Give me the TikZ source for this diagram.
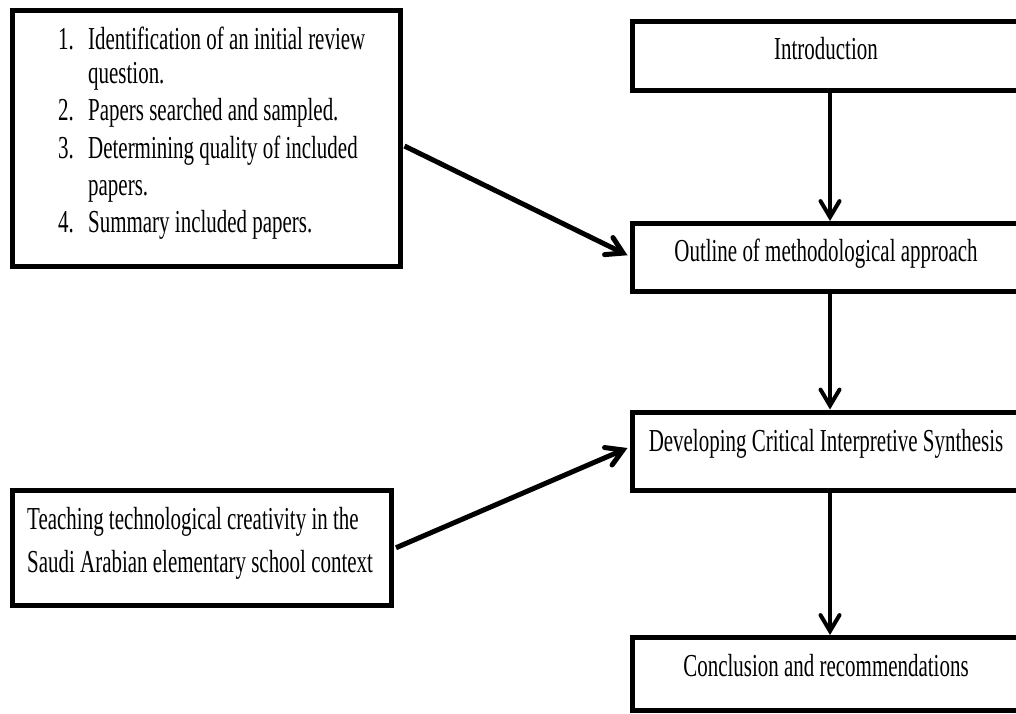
\documentclass[tikz,border=0pt]{standalone}
\usepackage{fontspec}
\setmainfont{Liberation Serif}[FakeStretch=0.655]
\usetikzlibrary{arrows.meta,calc}

\begin{document}
\begin{tikzpicture}[x=1pt,y=-1pt,
  box/.style={draw=black, line width=5pt, fill=white, inner sep=0pt, rectangle},
  lbl/.style={inner sep=0pt, font=\fontsize{32}{38}\selectfont, anchor=base},
  itemtxt/.style={inner sep=0pt, font=\fontsize{32}{38}\selectfont, anchor=base west},
  flow/.style={line width=4pt, -{Straight Barb[length=16pt,width=19pt,line cap=round]}},
  feed/.style={line width=5pt, -{Straight Barb[length=16pt,width=19pt,line cap=round]}}
]
  % page area; boxes on the right run past the edge
  \clip (0,0) rectangle (1016,713);
  \fill[white] (0,0) rectangle (1016,713);

  % main column
  \node[box, minimum width=396pt, minimum height=68.5pt] (intro)   at (830,55.75) {};
  \node[box, minimum width=396pt, minimum height=67.5pt] (outline) at (830,257.25) {};
  \node[box, minimum width=396pt, minimum height=78pt]   (dev)     at (830,451) {};
  \node[box, minimum width=396pt, minimum height=72.5pt] (concl)   at (830,673.75) {};

  \node[lbl] (introtxt)   at (826,59.3)  {Introduction};
  \node[lbl] (outlinetxt) at (826,261)   {Outline of methodological approach};
  \node[lbl] (devtxt)     at (826,451)   {Developing Critical Interpretive Synthesis};
  \node[lbl] (concltxt)   at (826,676.7) {Conclusion and recommendations};

  % review steps
  \node[box, minimum width=388pt, minimum height=256pt] (steps) at (206,138) {};
  \node[itemtxt] (s1)  at (58,49)  {\makebox[30pt][l]{1.}Identification of an initial review};
  \node[itemtxt] (s1b) at (88,83)  {question.};
  \node[itemtxt] (s2)  at (58,120) {\makebox[30pt][l]{2.}Papers searched and sampled.};
  \node[itemtxt] (s3)  at (58,158) {\makebox[30pt][l]{3.}Determining quality of included};
  \node[itemtxt] (s3b) at (88,195) {papers.};
  \node[itemtxt] (s4)  at (58,232) {\makebox[30pt][l]{4.}Summary included papers.};

  % context box
  \node[box, minimum width=379pt, minimum height=115.5pt] (ctx) at (202,547.75) {};
  \node[itemtxt] (c1) at (27,529) {Teaching technological creativity in the};
  \node[itemtxt] (c2) at (27,572) {Saudi Arabian elementary school context};

  % connectors
  \draw[flow] (intro.south) -- (outline.north);
  \draw[flow] (outline.south) -- (dev.north);
  \draw[flow] (dev.south) -- (concl.north);
  \draw[feed] ($(steps.east)+(2,8)$) -- ($(outline.west)+(-2,-2)$);
  \draw[feed] ($(ctx.east)+(2,0)$) -- ($(dev.west)+(-2,-3)$);
\end{tikzpicture}
\end{document}
